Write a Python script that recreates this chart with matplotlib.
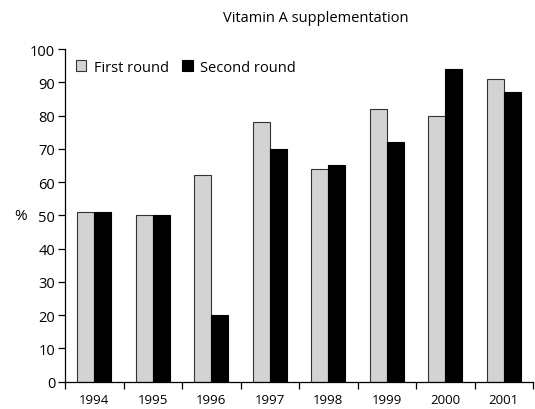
import matplotlib
matplotlib.use('Agg')
import matplotlib.pyplot as plt
import numpy as np

years = ['1994', '1995', '1996', '1997', '1998', '1999', '2000', '2001']
first_round = [51, 50, 62, 78, 64, 82, 80, 91]
second_round = [51, 50, 20, 70, 65, 72, 94, 87]

plt.rcParams['font.family'] = ['Open Sans', 'DejaVu Sans']
plt.rcParams['font.size'] = 10

fig = plt.figure(figsize=(5.35, 4.10), dpi=100)
ax = fig.add_axes([0.1215, 0.067, 0.875, 0.811])

x = np.arange(len(years))
w = 0.29
ax.bar(x - w / 2, first_round, w, color='#d3d3d5', edgecolor='#333333', linewidth=0.8, label='First round')
ax.bar(x + w / 2, second_round, w, color='black', edgecolor='black', linewidth=0.8, label='Second round')

ax.set_xlim(-0.5, len(years) - 0.5)
ax.set_ylim(0, 100)
ax.set_yticks(range(0, 101, 10))
ax.set_xticks(x)
ax.set_xticklabels(years)
ax.set_xticks(np.arange(-0.5, len(years) - 0.4, 1), minor=True)
ax.tick_params(axis='x', which='major', length=0, pad=8, labelsize=9.5)
ax.tick_params(axis='x', which='minor', length=5, width=0.9, direction='out')
ax.tick_params(axis='y', length=5, width=0.9, direction='out', pad=2, labelsize=10.5)
for s in ('top', 'right'):
    ax.spines[s].set_visible(False)
for s in ('left', 'bottom'):
    ax.spines[s].set_linewidth(0.9)

fig.text(14 / 535, 1 - 217 / 410, '%', fontsize=11, ha='left', va='center')
fig.text(316 / 535, 1 - 18 / 410, 'Vitamin A supplementation', fontsize=10.5, ha='center', va='center')

ax.legend(loc='upper left', bbox_to_anchor=(0.01, 0.985), frameon=False, ncol=2,
          handlelength=0.75, handleheight=0.75, handletextpad=0.5, columnspacing=0.9, fontsize=10.5,
          borderaxespad=0)

fig.savefig('out.png', dpi=100)
